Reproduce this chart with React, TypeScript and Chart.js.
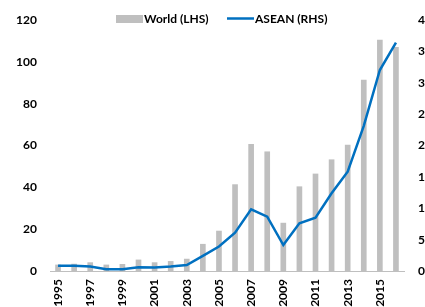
import React, { useEffect, useRef } from 'react';
import { Chart, registerables } from 'chart.js';

Chart.register(...registerables);

const years = ['1995', '1996', '1997', '1998', '1999', '2000', '2001', '2002', '2003', '2004', '2005', '2006', '2007', '2008', '2009', '2010', '2011', '2012', '2013', '2014', '2015', '2016'];
const worldValues = [2.9, 3.3, 4.0, 2.9, 3.2, 5.3, 4.0, 4.6, 5.7, 12.8, 19.1, 41.3, 60.6, 57.0, 22.9, 40.3, 46.4, 53.2, 60.2, 91.3, 110.4, 106.9];
const aseanValues = [85, 85, 70, 27, 27, 60, 55, 70, 95, 240, 390, 610, 983, 865, 414, 760, 850, 1238, 1583, 2314, 3203, 3638];
const leftMin = 0;
const leftMax = 120;
const leftStep = 20;
const rightMin = 0;
const rightMax = 4000;
const rightStep = 500;
const legendLabels = ['World (LHS)', 'ASEAN (RHS)'];

const BAR_COLOR = '#bfbfbf';
const LINE_COLOR = '#0070C0';
const FONT = 'Lato';

const legendPlugin = {
  id: 'customLegend',
  afterDraw(chart: any) {
    const ctx = chart.ctx;
    ctx.save();
    ctx.font = `bold 12px ${FONT}`;
    ctx.textBaseline = 'middle';
    ctx.fillStyle = BAR_COLOR;
    ctx.fillRect(116, 15, 27, 8);
    ctx.fillStyle = '#000';
    ctx.fillText(legendLabels[0], 144, 19);
    ctx.strokeStyle = LINE_COLOR;
    ctx.lineWidth = 2.5;
    ctx.beginPath();
    ctx.moveTo(227, 18.5);
    ctx.lineTo(254, 18.5);
    ctx.stroke();
    ctx.fillText(legendLabels[1], 255, 19);
    ctx.restore();
  },
};

export default function App() {
  const ref = useRef<HTMLCanvasElement | null>(null);
  useEffect(() => {
    if (!ref.current) return;
    const tickFont = { family: FONT, size: 12, weight: 'bold' as const };
    const chart = new Chart(ref.current, {
      type: 'bar',
      data: {
        labels: years,
        datasets: [
          {
            type: 'line',
            label: legendLabels[1],
            data: aseanValues,
            yAxisID: 'y1',
            borderColor: LINE_COLOR,
            backgroundColor: LINE_COLOR,
            borderWidth: 2.5,
            pointRadius: 0,
            tension: 0,
            order: 0,
          } as any,
          {
            type: 'bar',
            label: legendLabels[0],
            data: worldValues,
            yAxisID: 'y',
            backgroundColor: BAR_COLOR,
            barThickness: 5,
            order: 1,
          },
        ],
      },
      options: {
        responsive: false,
        animation: false,
        layout: { padding: { top: 20, left: 0, right: 0, bottom: 0 } },
        plugins: { legend: { display: false }, tooltip: { enabled: false } },
        scales: {
          x: {
            grid: { display: false, drawTicks: false },
            border: { display: true, color: BAR_COLOR, width: 1 },
            ticks: {
              autoSkip: false,
              maxRotation: 90,
              minRotation: 90,
              padding: 8,
              color: '#000',
              font: tickFont,
              callback: (_v: any, i: number) => (i % 2 === 0 ? years[i] : ''),
            },
            afterFit: (s: any) => {
              s.height = 59;
              s.paddingLeft = 0;
              s.paddingRight = 0;
            },
          },
          y: {
            position: 'left',
            min: leftMin,
            max: leftMax,
            grid: { display: false, drawTicks: false },
            border: { display: false },
            ticks: { stepSize: leftStep, padding: 13, color: '#000', font: tickFont },
            afterFit: (s: any) => {
              s.width = 50;
              s.paddingTop = 0;
              s.paddingBottom = 0;
            },
          },
          y1: {
            position: 'right',
            min: rightMin,
            max: rightMax,
            grid: { display: false, drawTicks: false },
            border: { display: false },
            ticks: {
              stepSize: rightStep,
              padding: 14,
              color: '#000',
              font: tickFont,
              callback: (v: any) => Number(v).toLocaleString('en-US'),
            },
            afterFit: (s: any) => {
              s.width = 46;
              s.paddingTop = 0;
              s.paddingBottom = 0;
            },
          },
        },
      },
      plugins: [legendPlugin],
    });
    return () => chart.destroy();
  }, []);

  return (
    <div style={{ position: 'absolute', left: 0, top: 0, width: 425, height: 307, overflow: 'hidden', background: '#fff' }}>
      <canvas ref={ref} width={450} height={330} style={{ display: 'block', width: 450, height: 330 }} />
    </div>
  );
}
